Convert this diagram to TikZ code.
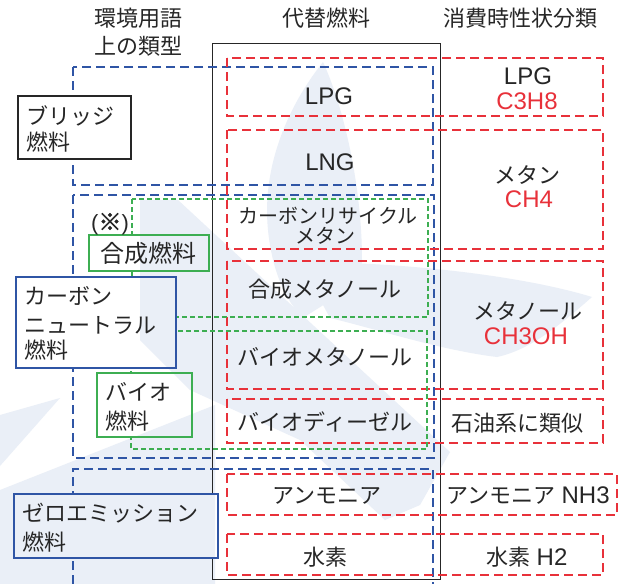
\documentclass[tikz,border=0pt]{standalone}
\usepackage{fontspec}
\setmainfont{Liberation Sans}
\newfontfamily\jp{Noto Sans CJK JP}
\newfontfamily\jpb[FakeBold=2.5]{Noto Sans CJK JP}
\definecolor{bl}{HTML}{2F55A5}
\definecolor{rd}{HTML}{E8313A}
\definecolor{gr}{HTML}{3DAE52}
\definecolor{tx}{HTML}{262626}
\definecolor{wm}{HTML}{EAEFF7}
\newcommand\wmshapes{%
  \fill[wm] (323,62) .. controls (285,110) and (262,170) .. (268,230)
    .. controls (272,270) and (285,300) .. (303,318)
    .. controls (330,300) and (362,285) .. (362,260)
    .. controls (362,190) and (345,110) .. cycle;
  \fill[wm] (140,200) -- (178,200) -- (450,452) -- (420,505) -- (385,520) -- (300,440) -- (190,390) -- (140,340) -- cycle;
  \fill[wm] (300,262) .. controls (400,262) and (520,275) .. (592,297)
    .. controls (560,325) and (530,350) .. (497,357)
    .. controls (440,350) and (380,330) .. (330,318) -- cycle;
  \fill[wm] (0,415) -- (60,398) -- (0,466) -- cycle;
  \fill[wm] (0,490) -- (215,405) -- (215,584) -- (0,584) -- cycle;
}
\begin{document}
\begin{tikzpicture}[x=1pt,y=-1pt,
  bdash/.style={draw=bl, line width=2pt, dash pattern=on 9pt off 5pt},
  rdash/.style={draw=rd, line width=2pt, dash pattern=on 9pt off 5pt},
  gdash/.style={draw=gr, line width=1.6pt, dash pattern=on 5pt off 3pt},
  jt/.style={text=tx, inner sep=0pt, font=\jp\fontsize{22}{26}\selectfont},
  jts/.style={text=tx, inner sep=0pt, font=\jp\fontsize{20}{24}\selectfont},
  lt/.style={text=tx, inner sep=0pt, font=\fontsize{24}{28}\selectfont},
  lr/.style={text=rd, inner sep=0pt, font=\fontsize{24}{28}\selectfont},
  mix/.style={text=tx, inner sep=0pt, font=\fontsize{22}{26}\selectfont},
  boxfill/.style={fill=white, inner sep=0pt},
  bkbox/.style={draw=tx, line width=2pt, fill=white, inner sep=0pt},
  blline/.style={draw=bl, line width=2pt},
  grline/.style={draw=gr, line width=2pt}
]
\useasboundingbox (0,0) rectangle (630,584);
\fill[white] (0,0) rectangle (630,584);
\wmshapes

% central column frame
\draw[draw=tx, line width=1pt] (212,43) rectangle (440,579);

% blue dashed groups
\draw[bdash] (73,67) rectangle (433,185);
\draw[bdash] (73,195) rectangle (434,458);
\draw[bdash] (73,584) -- (73,469) -- (433,469) -- (433,584);

% red dashed groups
\draw[rdash] (227,58) rectangle (603,116);
\draw[rdash] (227,130) rectangle (603,249);
\draw[rdash] (227,261) rectangle (603,389);
\draw[rdash] (227,399) rectangle (603,443);
\draw[rdash] (227,474) rectangle (617,515);
\draw[rdash] (227,534) rectangle (603,575);

% green dashed groups
\draw[gdash] (132,199) rectangle (428,317);
\draw[gdash] (131,331) rectangle (427,449);

% headers
\node[jt] (h1a) at (138,18) {環境用語};
\node[jt] (h1b) at (138,46) {上の類型};
\node[jt] (h2) at (326,18) {代替燃料};
\node[jt] (h3) at (520,18) {消費時性状分類};

% central column
\node[lt] (c1) at (329,96) {LPG};
\node[lt] (c2) at (330,162) {LNG};
\node[jts] (c3a) at (328,216) {カーボンリサイクル};
\node[jts] (c3b) at (325,236) {メタン};
\node[jt] (c4) at (325,289) {合成メタノール};
\node[jt] (c5) at (325,357) {バイオメタノール};
\node[jt] (c6) at (325,422) {バイオディーゼル};
\node[jt] (c7) at (327,496) {アンモニア};
\node[jt] (c8) at (325,557) {水素};

% right column
\node[lt] (r1a) at (528,76) {LPG};
\node[lr] (r1b) at (527,101) {C3H8};
\node[jt] (r2a) at (527,175) {メタン};
\node[lr] (r2b) at (529,199) {CH4};
\node[jt] (r3a) at (528,311) {メタノール};
\node[lr] (r3b) at (526,336) {CH3OH};
\node[jt] (r4) at (517,423) {石油系に類似};
\node[mix] (r5) at (528,496) {{\jp アンモニア} {\fontsize{24}{28}\selectfont NH3}};
\node[mix] (r6) at (527,557) {{\jp 水素} {\fontsize{24}{28}\selectfont H2}};

% left category boxes (white fill hides lines; watermark re-laid inside)
\node[bkbox, minimum width=113pt, minimum height=63pt] (bridge) at (74.5,127.5) {};
\node[boxfill, minimum width=120pt, minimum height=36pt] (syn) at (149,253) {};
\node[boxfill, minimum width=160pt, minimum height=91pt] (cn) at (96,322.5) {};
\node[boxfill, minimum width=95pt, minimum height=64pt] (bio) at (144.5,405) {};
\node[boxfill, minimum width=204pt, minimum height=64pt] (ze) at (116,526) {};
\foreach \b in {syn,cn,bio,ze}{
  \begin{scope}
    \clip (\b.south west) rectangle (\b.north east);
    \wmshapes
  \end{scope}
}
\draw[grline] (syn.south west) rectangle (syn.north east);
\draw[blline] (cn.south west) rectangle (cn.north east);
\draw[grline] (bio.south west) rectangle (bio.north east);
\draw[blline] (ze.south west) rectangle (ze.north east);

\node[jt, anchor=west] (bridge1) at (26,116) {ブリッジ};
\node[jt, anchor=west] (bridge2) at (26,142) {燃料};

\node[jt, font=\jp\fontsize{24}{28}\selectfont] (syn1) at (148,253) {合成燃料};
\node[mix] (note) at (110,224) {({\jpb\fontsize{23}{26}\selectfont ※})};

\node[jt, anchor=west] (cn1) at (24,296) {カーボン};
\node[jt, anchor=west] (cn2) at (24,325) {ニュートラル};
\node[jt, anchor=west] (cn3) at (24,350) {燃料};

\node[jt, anchor=west] (bio1) at (105,392) {バイオ};
\node[jt, anchor=west] (bio2) at (105,421) {燃料};

\node[jt, anchor=west] (ze1) at (22,513) {ゼロエミッション};
\node[jt, anchor=west] (ze2) at (22,542) {燃料};
\end{tikzpicture}
\end{document}
